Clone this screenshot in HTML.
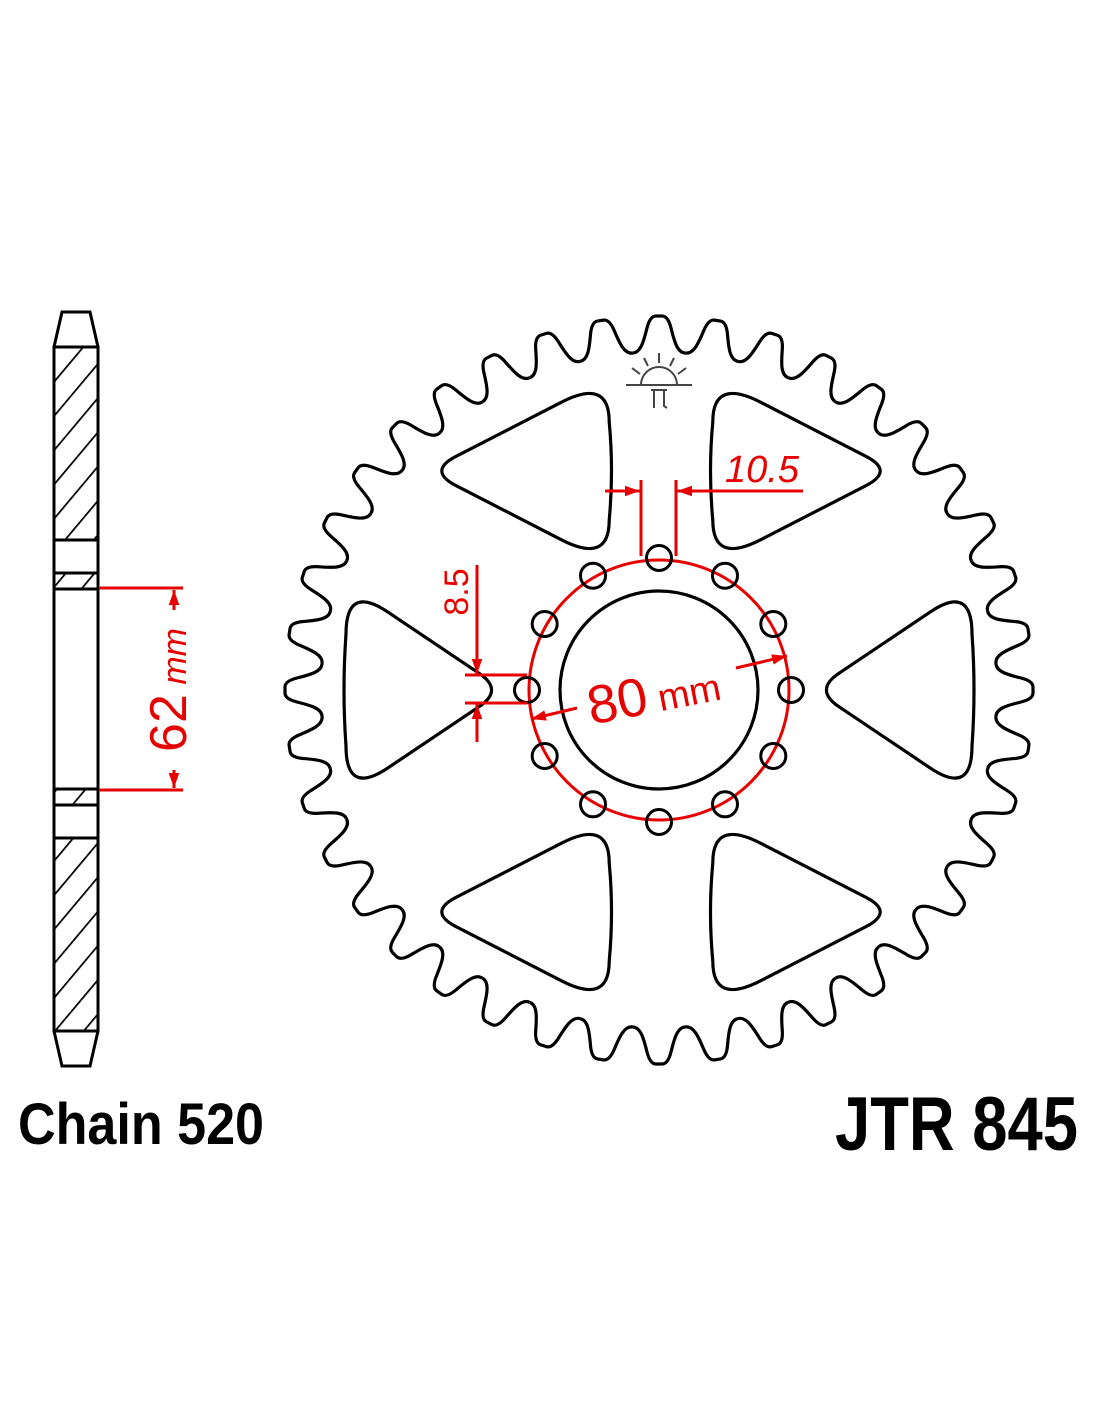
<!DOCTYPE html>
<html><head><meta charset="utf-8"><style>html,body{margin:0;padding:0;background:#fff}svg{display:block}</style></head>
<body>
<svg width="1100" height="1422" viewBox="0 0 1100 1422" xmlns="http://www.w3.org/2000/svg">
<defs>
<pattern id="h" width="22" height="22" patternUnits="userSpaceOnUse" patternTransform="rotate(40)">
<line x1="0" y1="0" x2="0" y2="22" stroke="#000" stroke-width="3.5"/>
</pattern>
<path id="tooth" d="M-26.5,-337 C-18,-337 -15,-350 -12,-362 Q-9,-374 -3,-374 L3,-374 Q9,-374 12,-362 C15,-350 18,-337 26.5,-337" fill="none" stroke="#000" stroke-width="3.2"/>
<path id="cut" d="M-65.1,-16.7 L26.5,-78.2 Q68,-106 68,-56 Q72,0 68,56 Q68,106 26.5,78.2 L-65.1,16.7 Q-90,0 -65.1,-16.7Z" fill="none" stroke="#000" stroke-width="3.2" vector-effect="non-scaling-stroke"/>
<marker id="ar" viewBox="0 0 10 10" refX="10" refY="5" markerWidth="5" markerHeight="5" orient="auto"><path d="M0,1.5 L10,5 L0,8.5Z" fill="#e60000"/></marker>
</defs>

<g stroke="#000" stroke-width="3" fill="none">
<rect x="54" y="347" width="44" height="193" fill="url(#h)"/>
<rect x="54" y="838" width="44" height="193" fill="url(#h)"/>
<rect x="54" y="573" width="44" height="16" fill="url(#h)"/>
<rect x="54" y="789" width="44" height="16" fill="url(#h)"/>
<line x1="54" y1="347" x2="54" y2="1031"/>
<line x1="98" y1="347" x2="98" y2="1031"/>
<polyline points="54,347 62,312 90,312 98,347"/>
<polyline points="54,1031 62,1066 90,1066 98,1031"/>
</g>
<g stroke="#e60000" stroke-width="3" fill="none">
<line x1="99" y1="588" x2="183" y2="588"/>
<line x1="99" y1="790" x2="183" y2="790"/>
<line x1="174" y1="610" x2="174" y2="590" marker-end="url(#ar)"/>
<line x1="174" y1="770" x2="174" y2="788" marker-end="url(#ar)"/>
</g>
<text transform="translate(186,690) rotate(-90)" text-anchor="middle" font-family="Liberation Sans, sans-serif" fill="#e60000"><tspan font-size="52">62</tspan><tspan font-size="34" font-style="italic"> mm</tspan></text>

<g transform="translate(659,690)">
<use href="#tooth" transform="rotate(0)"/><use href="#tooth" transform="rotate(9)"/><use href="#tooth" transform="rotate(18)"/><use href="#tooth" transform="rotate(27)"/><use href="#tooth" transform="rotate(36)"/><use href="#tooth" transform="rotate(45)"/><use href="#tooth" transform="rotate(54)"/><use href="#tooth" transform="rotate(63)"/><use href="#tooth" transform="rotate(72)"/><use href="#tooth" transform="rotate(81)"/>
<use href="#tooth" transform="rotate(90)"/><use href="#tooth" transform="rotate(99)"/><use href="#tooth" transform="rotate(108)"/><use href="#tooth" transform="rotate(117)"/><use href="#tooth" transform="rotate(126)"/><use href="#tooth" transform="rotate(135)"/><use href="#tooth" transform="rotate(144)"/><use href="#tooth" transform="rotate(153)"/><use href="#tooth" transform="rotate(162)"/><use href="#tooth" transform="rotate(171)"/>
<use href="#tooth" transform="rotate(180)"/><use href="#tooth" transform="rotate(189)"/><use href="#tooth" transform="rotate(198)"/><use href="#tooth" transform="rotate(207)"/><use href="#tooth" transform="rotate(216)"/><use href="#tooth" transform="rotate(225)"/><use href="#tooth" transform="rotate(234)"/><use href="#tooth" transform="rotate(243)"/><use href="#tooth" transform="rotate(252)"/><use href="#tooth" transform="rotate(261)"/>
<use href="#tooth" transform="rotate(270)"/><use href="#tooth" transform="rotate(279)"/><use href="#tooth" transform="rotate(288)"/><use href="#tooth" transform="rotate(297)"/><use href="#tooth" transform="rotate(306)"/><use href="#tooth" transform="rotate(315)"/><use href="#tooth" transform="rotate(324)"/><use href="#tooth" transform="rotate(333)"/><use href="#tooth" transform="rotate(342)"/><use href="#tooth" transform="rotate(351)"/>
</g>

<use href="#cut" transform="translate(904,690)"/>
<use href="#cut" transform="translate(531,471) scale(1.15,0.88)"/>
<use href="#cut" transform="translate(531,912) scale(1.15,0.88)"/>
<use href="#cut" transform="translate(414,690) rotate(180)"/>
<use href="#cut" transform="translate(791,471) rotate(180) scale(1.15,0.88)"/>
<use href="#cut" transform="translate(791,912) rotate(180) scale(1.15,0.88)"/>

<circle cx="659" cy="690" r="99" fill="none" stroke="#000" stroke-width="3.2"/>
<circle cx="659" cy="690" r="130" fill="none" stroke="#e60000" stroke-width="3"/>
<g fill="none" stroke="#000" stroke-width="3">
<circle cx="791" cy="690" r="12.5"/><circle cx="773.3" cy="624" r="12.5"/><circle cx="725" cy="575.7" r="12.5"/><circle cx="659" cy="558" r="12.5"/><circle cx="593" cy="575.7" r="12.5"/><circle cx="544.7" cy="624" r="12.5"/>
<circle cx="527" cy="690" r="12.5"/><circle cx="544.7" cy="756" r="12.5"/><circle cx="593" cy="804.3" r="12.5"/><circle cx="659" cy="822" r="12.5"/><circle cx="725" cy="804.3" r="12.5"/><circle cx="773.3" cy="756" r="12.5"/>
</g>

<g stroke="#444" stroke-width="2" fill="none">
<line x1="626" y1="385" x2="692" y2="385"/>
<path d="M641,385 A18,18 0 0 1 677,385"/>
<line x1="659" y1="363" x2="659" y2="353"/>
<line x1="670" y1="366" x2="674" y2="358"/>
<line x1="648" y1="366" x2="644" y2="358"/>
<line x1="678" y1="374" x2="686" y2="368"/>
<line x1="640" y1="374" x2="632" y2="368"/>
<path d="M651,390 L667,390 M654,390 L654,408 M664,390 L664,406 L667,408"/>
</g>

<g stroke="#e60000" stroke-width="3" fill="none">
<line x1="641" y1="480" x2="641" y2="556"/>
<line x1="676" y1="480" x2="676" y2="556"/>
<line x1="605" y1="491" x2="640" y2="491" marker-end="url(#ar)"/>
<line x1="803" y1="491" x2="677" y2="491" marker-end="url(#ar)"/>
<line x1="477" y1="565" x2="477" y2="674" marker-end="url(#ar)"/>
<line x1="477" y1="742" x2="477" y2="704" marker-end="url(#ar)"/>
<line x1="465" y1="675" x2="527" y2="675"/>
<line x1="465" y1="703" x2="527" y2="703"/>
<line x1="577" y1="708" x2="531" y2="719" marker-end="url(#ar)"/>
<line x1="736" y1="668" x2="787" y2="656" marker-end="url(#ar)"/>
</g>
<text x="725" y="482" font-family="Liberation Sans, sans-serif" font-style="italic" font-size="38" fill="#e60000">10.5</text>
<text transform="translate(468,592) rotate(-90)" text-anchor="middle" font-family="Liberation Sans, sans-serif" font-size="34" fill="#e60000">8.5</text>
<text transform="translate(657,712) rotate(-11)" text-anchor="middle" font-family="Liberation Sans, sans-serif" fill="#e60000"><tspan font-size="54">80</tspan><tspan font-size="38"> mm</tspan></text>

<text x="18" y="1144" textLength="246" lengthAdjust="spacingAndGlyphs" font-family="Liberation Sans, sans-serif" font-weight="bold" font-size="58" fill="#000">Chain 520</text>
<text x="835" y="1150" textLength="243" lengthAdjust="spacingAndGlyphs" font-family="Liberation Sans, sans-serif" font-weight="bold" font-size="76" fill="#000">JTR 845</text>
</svg>
</body></html>
